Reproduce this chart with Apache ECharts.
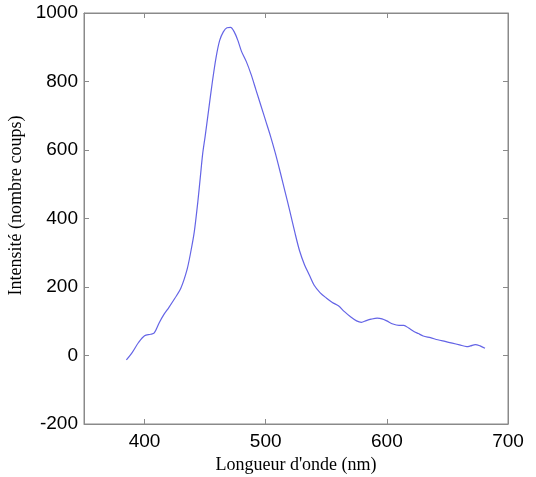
<!DOCTYPE html>
<html>
<head>
<meta charset="utf-8">
<script src="https://cdn.jsdelivr.net/npm/echarts@6/dist/echarts.min.js"></script>
<style>html,body{margin:0;padding:0;background:#fff}#c{width:536px;height:477px}</style>
</head>
<body>
<div id="c"></div>
<script>
const wavelengths = [385,390,395,400,405,408,412,416,420,425,430,435,438,441,444,446,448,450,453,456,459,462,465,468,471,474,477,480,484,488,492,496,500,504,508,512,516,520,524,528,532,536,540,545,550,555,560,565,570,575,579,583,587,592,596,600,605,610,614,618,622,626,630,636,642,648,654,660,666,669,673,677,681];
const intensities = [-13,10,38,58,62,66,95,120,140,167,197,250,300,360,450,520,590,640,720,800,870,920,945,957,958,945,920,888,858,820,775,730,685,640,590,535,478,420,360,305,265,235,205,183,168,155,145,128,113,101,97,102,106,109,107,101,92,88,88,80,71,64,57,52,46,41,36,31,26,28,32,28,21];
const xTickLabels = [400,500,600,700];
const yTicks = [-200,0,200,400,600,800,1000];

const chart = echarts.init(document.getElementById('c'));
const axisColor = '#8a8a8a';
const tickFont = {color:'#000', fontFamily:'Liberation Sans', fontSize:19};
const pts = wavelengths.map((w,i)=>[w,intensities[i]]);
chart.setOption({
  animation:false,
  grid:{left:84,right:28,top:13,bottom:53,containLabel:false,outerBoundsMode:'none',show:true,borderColor:axisColor,borderWidth:1},
  xAxis:[{
    type:'value',min:350,max:700,position:'bottom',
    name:"Longueur d'onde (nm)",nameLocation:'middle',nameGap:31,
    nameTextStyle:{fontFamily:'Liberation Serif',fontSize:18,color:'#000'},
    axisLine:{show:true,onZero:false,lineStyle:{color:axisColor}},
    axisTick:{show:true,inside:true,length:5,customValues:xTickLabels,lineStyle:{color:axisColor}},
    axisLabel:{...tickFont,margin:8,customValues:xTickLabels,formatter:v=>String(v)},
    splitLine:{show:false}
  },{
    type:'value',min:350,max:700,position:'top',
    axisLine:{show:true,onZero:false,lineStyle:{color:axisColor}},
    axisTick:{show:true,inside:true,length:5,customValues:xTickLabels,lineStyle:{color:axisColor}},
    axisLabel:{show:false},splitLine:{show:false}
  }],
  yAxis:[{
    type:'value',min:yTicks[0],max:yTicks[yTicks.length-1],interval:200,position:'left',
    name:'Intensité (nombre coups)',nameLocation:'middle',nameGap:51,nameRotate:90,
    nameTextStyle:{fontFamily:'Liberation Serif',fontSize:18,color:'#000',padding:[0,0,0,26]},
    axisLine:{show:true,onZero:false,lineStyle:{color:axisColor}},
    axisTick:{show:true,inside:true,length:5,lineStyle:{color:axisColor}},
    axisLabel:{...tickFont,margin:6,formatter:v=>String(v)},
    splitLine:{show:false}
  },{
    type:'value',min:yTicks[0],max:yTicks[yTicks.length-1],interval:200,position:'right',
    axisLine:{show:true,onZero:false,lineStyle:{color:axisColor}},
    axisTick:{show:true,inside:true,length:5,lineStyle:{color:axisColor}},
    axisLabel:{show:false},splitLine:{show:false}
  }],
  series:[{
    type:'line',data:pts,showSymbol:false,smooth:0.3,
    lineStyle:{color:'#6464e6',width:1.2}
  }]
});
</script>
</body>
</html>
